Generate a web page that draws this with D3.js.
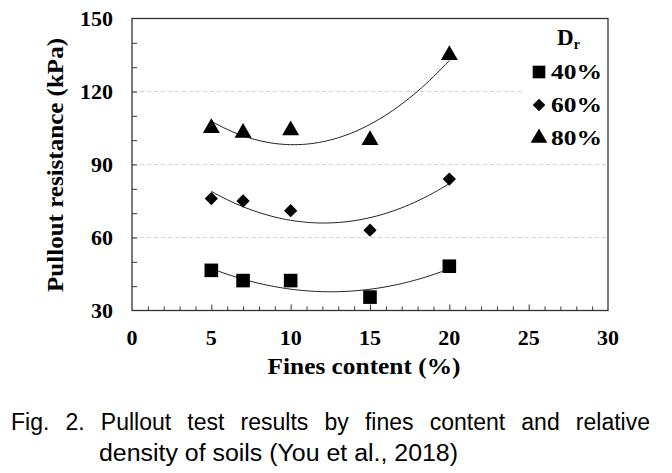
<!DOCTYPE html>
<html lang="en">
<head>
<meta charset="UTF-8">
<title>Pullout resistance vs fines content</title>
<script src="https://d3js.org/d3.v7.min.js"></script>
<style>
  body { margin: 0; background: #fff; }
  svg text { fill: #000; }
  .tick-label, .axis-title, .legend text { font-family: "Liberation Serif", "Times New Roman", serif; font-weight: bold; }
  .caption { font-family: "Liberation Sans", Arial, sans-serif; font-size: 23px; }
  .grid { stroke: #d4d4d4; stroke-dasharray: 4,3; stroke-width: 1; }
  .fit { fill: none; stroke: #222; stroke-width: 1; }
</style>
</head>
<body>
<svg id="chart" width="672" height="473"></svg>
<script>
// data
var finesContent = [5, 7, 10, 15, 20];
var dr40 = [46.5, 42.3, 42.3, 35.5, 48.2];
var dr60 = [76, 75, 71, 63, 84];
var dr80 = [105, 103, 104, 100, 135];
var seriesNames = ['40%', '60%', '80%'];
var xTicks = [0, 5, 10, 15, 20, 25, 30];
var yTicks = [30, 60, 90, 120, 150];
var gridValues = [60, 90, 120];

var svg = d3.select('#chart');
var m = { left: 132, right: 608, top: 18.5, bottom: 310.5 };

var x = d3.scaleLinear().domain([0, 30]).range([m.left, m.right]);
var y = d3.scaleLinear().domain([30, 150]).range([m.bottom, m.top]);

// dashed grid (120 line stops short of the legend)
svg.selectAll('line.grid').data(gridValues).enter().append('line')
  .attr('class', 'grid')
  .attr('x1', m.left + 1)
  .attr('x2', function(d){ return d === 120 ? 524 : m.right - 1; })
  .attr('y1', function(d){ return y(d); })
  .attr('y2', function(d){ return y(d); });

// quadratic least squares trendline
function quadFit(xs, ys){
  var n = xs.length, s = [0,0,0,0,0], t = [0,0,0];
  for (var i = 0; i < n; i++){
    var p = 1;
    for (var k = 0; k < 5; k++){ s[k] += p; if (k < 3) t[k] += p * ys[i]; p *= xs[i]; }
  }
  var A = [[s[0],s[1],s[2],t[0]],[s[1],s[2],s[3],t[1]],[s[2],s[3],s[4],t[2]]];
  for (var c = 0; c < 3; c++){
    for (var r = c + 1; r < 3; r++){
      var f = A[r][c] / A[c][c];
      for (var j = c; j < 4; j++) A[r][j] -= f * A[c][j];
    }
  }
  var b = [0,0,0];
  for (var r2 = 2; r2 >= 0; r2--){
    var v = A[r2][3];
    for (var j2 = r2 + 1; j2 < 3; j2++) v -= A[r2][j2] * b[j2];
    b[r2] = v / A[r2][r2];
  }
  return function(xv){ return b[0] + b[1]*xv + b[2]*xv*xv; };
}

var allSeries = [dr40, dr60, dr80];
var line = d3.line().x(function(d){ return x(d[0]); }).y(function(d){ return y(d[1]); });
allSeries.forEach(function(vals){
  var f = quadFit(finesContent, vals);
  var pts = d3.range(5, 20.01, 0.25).map(function(v){ return [v, f(v)]; });
  svg.append('path').attr('class', 'fit').attr('d', line(pts));
});

// markers: square, diamond (square turned 45deg), triangle
var symbols = [d3.symbolSquare, d3.symbolSquare, d3.symbolTriangle];
var sizes = [185, 88, 125];
var turns = [0, 45, 0];
allSeries.forEach(function(vals, si){
  svg.selectAll('path.m' + si).data(vals).enter().append('path')
    .attr('class', 'm' + si)
    .attr('d', d3.symbol().type(symbols[si]).size(sizes[si]))
    .attr('transform', function(d, i){
      return 'translate(' + x(finesContent[i]) + ',' + y(d) + ') rotate(' + turns[si] + ')';
    })
    .attr('fill', '#000');
});

// frame
svg.append('rect').attr('x', m.left).attr('y', m.top).attr('width', m.right - m.left).attr('height', m.bottom - m.top)
  .attr('fill', 'none').attr('stroke', '#333').attr('stroke-width', 1.3);

// x axis: inward ticks every 1, longer every 5
var xAxis = d3.axisTop(x).tickValues(d3.range(1, 30)).tickFormat('')
  .tickSizeInner(4).tickSizeOuter(0);
var gx = svg.append('g').attr('transform', 'translate(0,' + m.bottom + ')').call(xAxis);
gx.select('.domain').remove();
gx.selectAll('.tick line').attr('stroke', '#333')
  .attr('y2', function(d){ return d % 5 === 0 ? -6 : -4; });
svg.selectAll('text.xl').data(xTicks).enter().append('text')
  .attr('class', 'tick-label xl')
  .attr('x', function(d){ return x(d); }).attr('y', 345)
  .attr('text-anchor', 'middle').attr('font-size', 20)
  .attr('textLength', function(d){ return String(d).length * 11; })
  .attr('lengthAdjust', 'spacingAndGlyphs')
  .text(function(d){ return d; });

// y axis: inward ticks every 10
var yAxis = d3.axisRight(y).tickValues(d3.range(40, 150, 10)).tickFormat('')
  .tickSizeInner(5).tickSizeOuter(0);
var gy = svg.append('g').attr('transform', 'translate(' + m.left + ',0)').call(yAxis);
gy.select('.domain').remove();
gy.selectAll('.tick line').attr('stroke', '#333');
svg.selectAll('text.yl').data(yTicks).enter().append('text')
  .attr('class', 'tick-label yl')
  .attr('x', 113).attr('y', function(d){ return y(d); }).attr('dy', '0.35em')
  .attr('text-anchor', 'end').attr('font-size', 20)
  .attr('textLength', function(d){ return String(d).length * 11; })
  .attr('lengthAdjust', 'spacingAndGlyphs')
  .text(function(d){ return d; });

// axis titles
svg.append('text').attr('class', 'axis-title')
  .attr('x', 364).attr('y', 374).attr('text-anchor', 'middle').attr('font-size', 23)
  .attr('textLength', 193).attr('lengthAdjust', 'spacingAndGlyphs')
  .text('Fines content (%)');
svg.append('text').attr('class', 'axis-title')
  .attr('transform', 'translate(63,165) rotate(-90)').attr('text-anchor', 'middle').attr('font-size', 24)
  .attr('textLength', 254).attr('lengthAdjust', 'spacingAndGlyphs')
  .text('Pullout  resistance (kPa)');

// legend
var legend = svg.append('g').attr('class', 'legend');
var dr = legend.append('text').attr('x', 557).attr('y', 45).attr('font-size', 23);
dr.append('tspan').text('D');
dr.append('tspan').attr('font-size', 14).attr('dy', 4).text('r');
seriesNames.forEach(function(name, i){
  var yy = 79 + i * 33;
  legend.append('path')
    .attr('d', d3.symbol().type(symbols[i]).size([160, 80, 120][i]))
    .attr('transform', 'translate(539,' + (yy - 7) + ') rotate(' + turns[i] + ')').attr('fill', '#000');
  legend.append('text').attr('x', 551).attr('y', yy).attr('font-size', 22)
    .attr('textLength', 51).attr('lengthAdjust', 'spacingAndGlyphs').text(name);
});

// caption, first line justified
var cap1 = 'Fig. 2. Pullout test results by fines content and relative'.split(' ');
var capLeft = 11, capRight = 650;
var words = cap1.map(function(w){
  return svg.append('text').attr('class', 'caption').attr('y', 430).text(w);
});
var widths = words.map(function(t){ return t.node().getComputedTextLength(); });
var gap = (capRight - capLeft - d3.sum(widths)) / (words.length - 1);
var cx = capLeft;
words.forEach(function(t, i){ t.attr('x', cx); cx += widths[i] + gap; });
svg.append('text').attr('class', 'caption').attr('x', 99).attr('y', 461)
  .attr('textLength', 359).attr('lengthAdjust', 'spacingAndGlyphs')
  .text('density of soils (You et al., 2018)');
</script>
</body>
</html>
